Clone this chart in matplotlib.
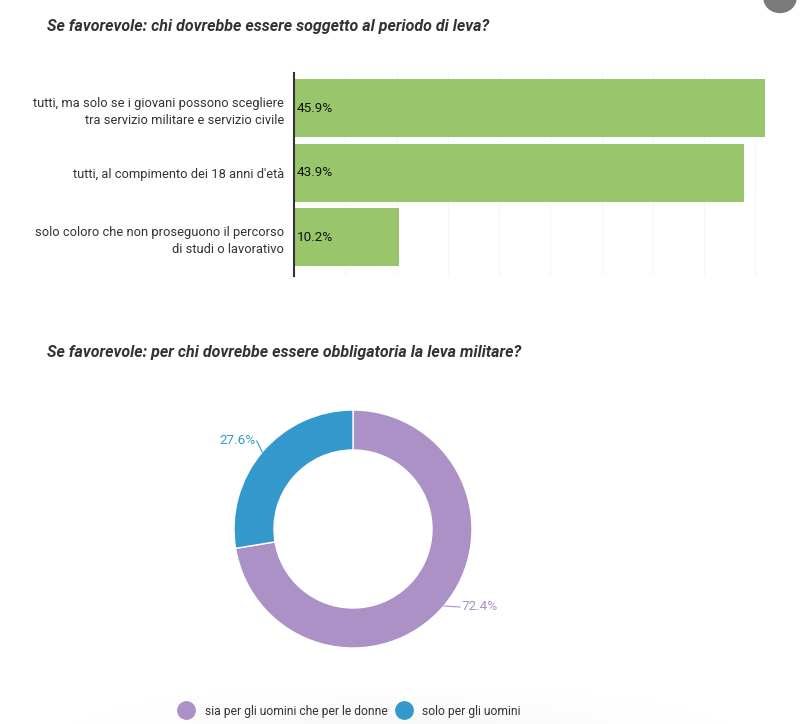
import matplotlib
matplotlib.use("Agg")
import matplotlib.pyplot as plt
import numpy as np
from matplotlib.patches import Circle

plt.rcParams['font.family'] = ['Roboto', 'DejaVu Sans']

title1 = "Se favorevole: chi dovrebbe essere soggetto al periodo di leva?"
bar_labels = ["tutti, ma solo se i giovani possono scegliere\ntra servizio militare e servizio civile",
              "tutti, al compimento dei 18 anni d'età",
              "solo coloro che non proseguono il percorso\ndi studi o lavorativo"]
bar_values = [45.9, 43.9, 10.2]
bar_color = "#99c66a"

title2 = "Se favorevole: per chi dovrebbe essere obbligatoria la leva militare?"
pie_labels = ["sia per gli uomini che per le donne", "solo per gli uomini"]
pie_values = [72.4, 27.6]
pie_colors = ["#ab91c5", "#3399cc"]

W, H = 800, 724
fig = plt.figure(figsize=(W/100, H/100), dpi=100)

def ax_rect(x0, y0, x1, y1):
    return [x0/W, 1 - y1/H, (x1-x0)/W, (y1-y0)/H]

# bottom fade (legend shadow)
axbg = fig.add_axes(ax_rect(0, 680, 800, 724))
grad = np.linspace(0, 1, 50)
gx = np.exp(-((np.linspace(-1, 1, 400))**2) / 0.25)
img = np.outer(grad**1.5, gx)
axbg.imshow(img, aspect='auto', cmap='Greys', vmin=0, vmax=18, extent=[0, 1, 0, 1], origin='upper')
axbg.axis('off')

# titles
fig.text(47/W, 1 - 26/H, title1, fontsize=11.5, fontweight='bold', style='italic',
         color='#333333', va='center', ha='left')
fig.text(47/W, 1 - 352/H, title2, fontsize=11.5, fontweight='bold', style='italic',
         color='#333333', va='center', ha='left')

# bar chart
ax = fig.add_axes(ax_rect(294, 73, 776, 276))
y = np.arange(len(bar_values))
ax.barh(y, bar_values, height=0.9, color=bar_color, zorder=2)
ax.set_xlim(0, 47)
ax.set_ylim(2.6, -0.55)
ax.set_xticks(np.arange(5, 47, 5))
ax.grid(axis='x', color='#f6f6f6', linewidth=0.8, zorder=0)
ax.tick_params(axis='x', length=0, labelbottom=False)
ax.tick_params(axis='y', length=0, pad=7)
ax.set_yticks(y)
ax.set_yticklabels(bar_labels, fontsize=9.3, color='#333333', linespacing=1.45)
for s in ['top', 'right', 'bottom']:
    ax.spines[s].set_visible(False)
ax.spines['left'].set_color('#333333')
ax.spines['left'].set_linewidth(1.5)
ax.spines['left'].set_zorder(3)
for yi, v in zip(y, bar_values):
    ax.text(0.3, yi, f"{v}%", va='center', ha='left', fontsize=9.7, color='#111111', zorder=4)

# donut
cx, cy, r = 353, 529, 119
axp = fig.add_axes(ax_rect(cx - 150, cy - 150, cx + 150, cy + 150))
wedges, _ = axp.pie(pie_values, colors=pie_colors, startangle=90, counterclock=False,
                    radius=119/150, wedgeprops=dict(width=40/150, edgecolor='white', linewidth=1))
axp.set_xlim(-1, 1)
axp.set_ylim(-1, 1)
axp.set_aspect('equal')
axp.axis('off')

def px(xp, yp):
    return ((xp - cx)/150, -(yp - cy)/150)

cum = 0
label_pos = [(461, 607, 'left'), (256, 441, 'right')]
for i, (v, col) in enumerate(zip(pie_values, pie_colors)):
    mid = cum + v/2
    cum += v
    ang = np.deg2rad(90 - mid*3.6)
    ox, oy = (119/150)*np.cos(ang), (119/150)*np.sin(ang)
    lx, ly, ha = label_pos[i]
    tx, ty = px(lx, ly)
    if ha == 'left':
        axp.plot([ox, tx - 0.005], [oy, ty], color=col, lw=0.8)
    else:
        axp.plot([ox, tx + 0.005], [oy, ty], color=col, lw=0.8)
    axp.text(tx, ty, f"{v}%", color=col, fontsize=9.7, ha=ha, va='center')

# legend
handles = [plt.Line2D([], [], marker='o', linestyle='', markersize=12.5,
                      markerfacecolor=c, markeredgecolor=c) for c in pie_colors]
fig.legend(handles, pie_labels, loc='center', bbox_to_anchor=(350/W, 1 - 711/H),
           ncol=2, frameon=False, fontsize=8.7, handletextpad=0.9, columnspacing=0.8,
           handlelength=1.2, labelcolor='#333333')

# corner element
fig.patches.append(Circle((780/W, 1 + 2/H), 16/W, transform=fig.transFigure,
                          color='#7a7a7a'))

fig.savefig("out.png", dpi=100)
